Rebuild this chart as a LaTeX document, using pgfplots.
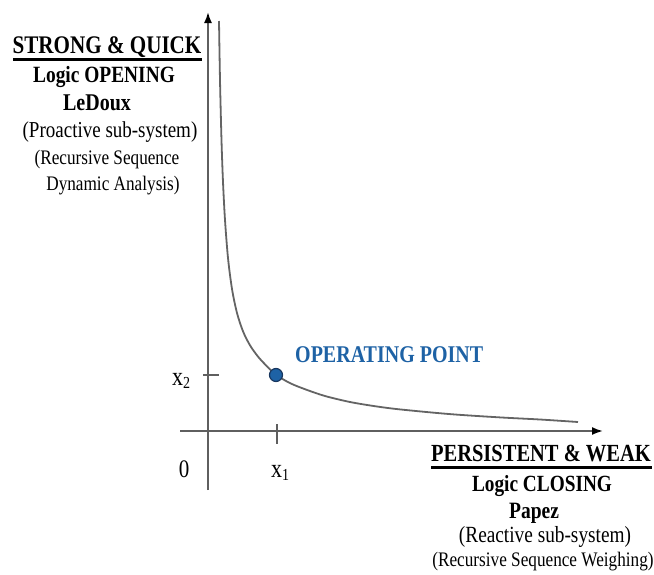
\documentclass[border=0pt]{standalone}
\usepackage{pgfplots}
\pgfplotsset{compat=1.18}
\usetikzlibrary{arrows.meta}
\usepackage{fontspec}
\setmainfont{Liberation Serif}
\usepackage{graphicx}
\definecolor{axgray}{RGB}{95,95,95}
\definecolor{curvegray}{RGB}{100,100,100}
\definecolor{opblue}{RGB}{30,98,165}
\definecolor{opedge}{RGB}{25,55,95}
\newcommand\fs[1]{\fontsize{#1}{#1}\selectfont}
\newcommand\st[1]{\scalebox{1}[1.2]{#1}}
\newcommand\sub[1]{\raisebox{-0.3ex}{\fontsize{14}{14}\selectfont #1}}
\begin{document}
\begin{tikzpicture}
\begin{axis}[width=654pt,height=574pt,scale only axis,
  xmin=0,xmax=654,ymin=0,ymax=574,y dir=reverse,
  hide axis,clip=false]
\coordinate (bl) at (axis cs:0,574);
\coordinate (tr) at (axis cs:654,0);
% axes
\addplot[axgray,line width=1.8pt,-{Latex[length=11pt,width=8pt,color=black]}] coordinates {(208,490) (208,12)};
\addplot[axgray,line width=1.8pt,-{Latex[length=11pt,width=8pt,color=black]}] coordinates {(180,431) (603,431)};
% ticks
\addplot[axgray,line width=1.6pt] coordinates {(277,424) (277,444)};
\addplot[axgray,line width=1.6pt] coordinates {(203,375) (219,375)};
% curve
\addplot[curvegray,line width=1.8pt,smooth] coordinates {
(219,21) (220,80) (221.5,140.4) (223,182) (225,220) (228,258) (232,289) (237,313)
(243,331.3) (250,345.3) (258,356.6) (266,365.3) (276,374.8) (290,383.1) (305,389.2)
(325,396) (350,402) (375,406.2) (400,409.4) (450,414.1) (500,417.4) (540,419.5) (578,422)};
% operating point
\addplot[only marks,mark=*,mark size=6.5pt,mark options={fill=opblue,draw=opedge,line width=1.2pt}] coordinates {(276,375)};
% tick labels
\node[anchor=base,inner sep=0] at (axis cs:184,477) {\fs{21}\st{0}};
\node[anchor=base,inner sep=0] at (axis cs:280,477) {\fs{22}\st{x\sub{1}}};
\node[anchor=base,inner sep=0] at (axis cs:181,385) {\fs{22}\st{x\sub{2}}};
% operating point label
\node[anchor=base west,inner sep=0,text=opblue] at (axis cs:295,362) {\fs{20}\st{\bfseries OPERATING POINT}};
% left block
\node[anchor=base,inner sep=0] at (axis cs:107,53) {\fs{21.1}\st{\bfseries STRONG \& QUICK}};
\draw[black,line width=2.4pt] (axis cs:13,59.5) -- (axis cs:202,59.5);
\node[anchor=base,inner sep=0] at (axis cs:104,82) {\fs{19.4}\st{\bfseries Logic OPENING}};
\node[anchor=base,inner sep=0] at (axis cs:97,110) {\fs{20}\st{\bfseries LeDoux}};
\node[anchor=base,inner sep=0] at (axis cs:110,137) {\fs{19}\st{(Proactive sub-system)}};
\node[anchor=base,inner sep=0] at (axis cs:107,164) {\fs{17.2}\st{(Recursive Sequence}};
\node[anchor=base,inner sep=0] at (axis cs:113,190) {\fs{17.2}\st{Dynamic Analysis)}};
% bottom-right block
\node[anchor=base,inner sep=0] at (axis cs:541,461) {\fs{20.5}\st{\bfseries PERSISTENT \& WEAK}};
\draw[black,line width=2.4pt] (axis cs:431,467.5) -- (axis cs:652,467.5);
\node[anchor=base,inner sep=0] at (axis cs:542,491) {\fs{19.3}\st{\bfseries Logic CLOSING}};
\node[anchor=base,inner sep=0] at (axis cs:534,518) {\fs{19.5}\st{\bfseries Papez}};
\node[anchor=base,inner sep=0] at (axis cs:545,542) {\fs{19.3}\st{(Reactive sub-system)}};
\node[anchor=base,inner sep=0] at (axis cs:543,566) {\fs{17.2}\st{(Recursive Sequence Weighing)}};
\end{axis}
\pgfresetboundingbox
\path (bl) rectangle (tr);
\end{tikzpicture}
\end{document}
